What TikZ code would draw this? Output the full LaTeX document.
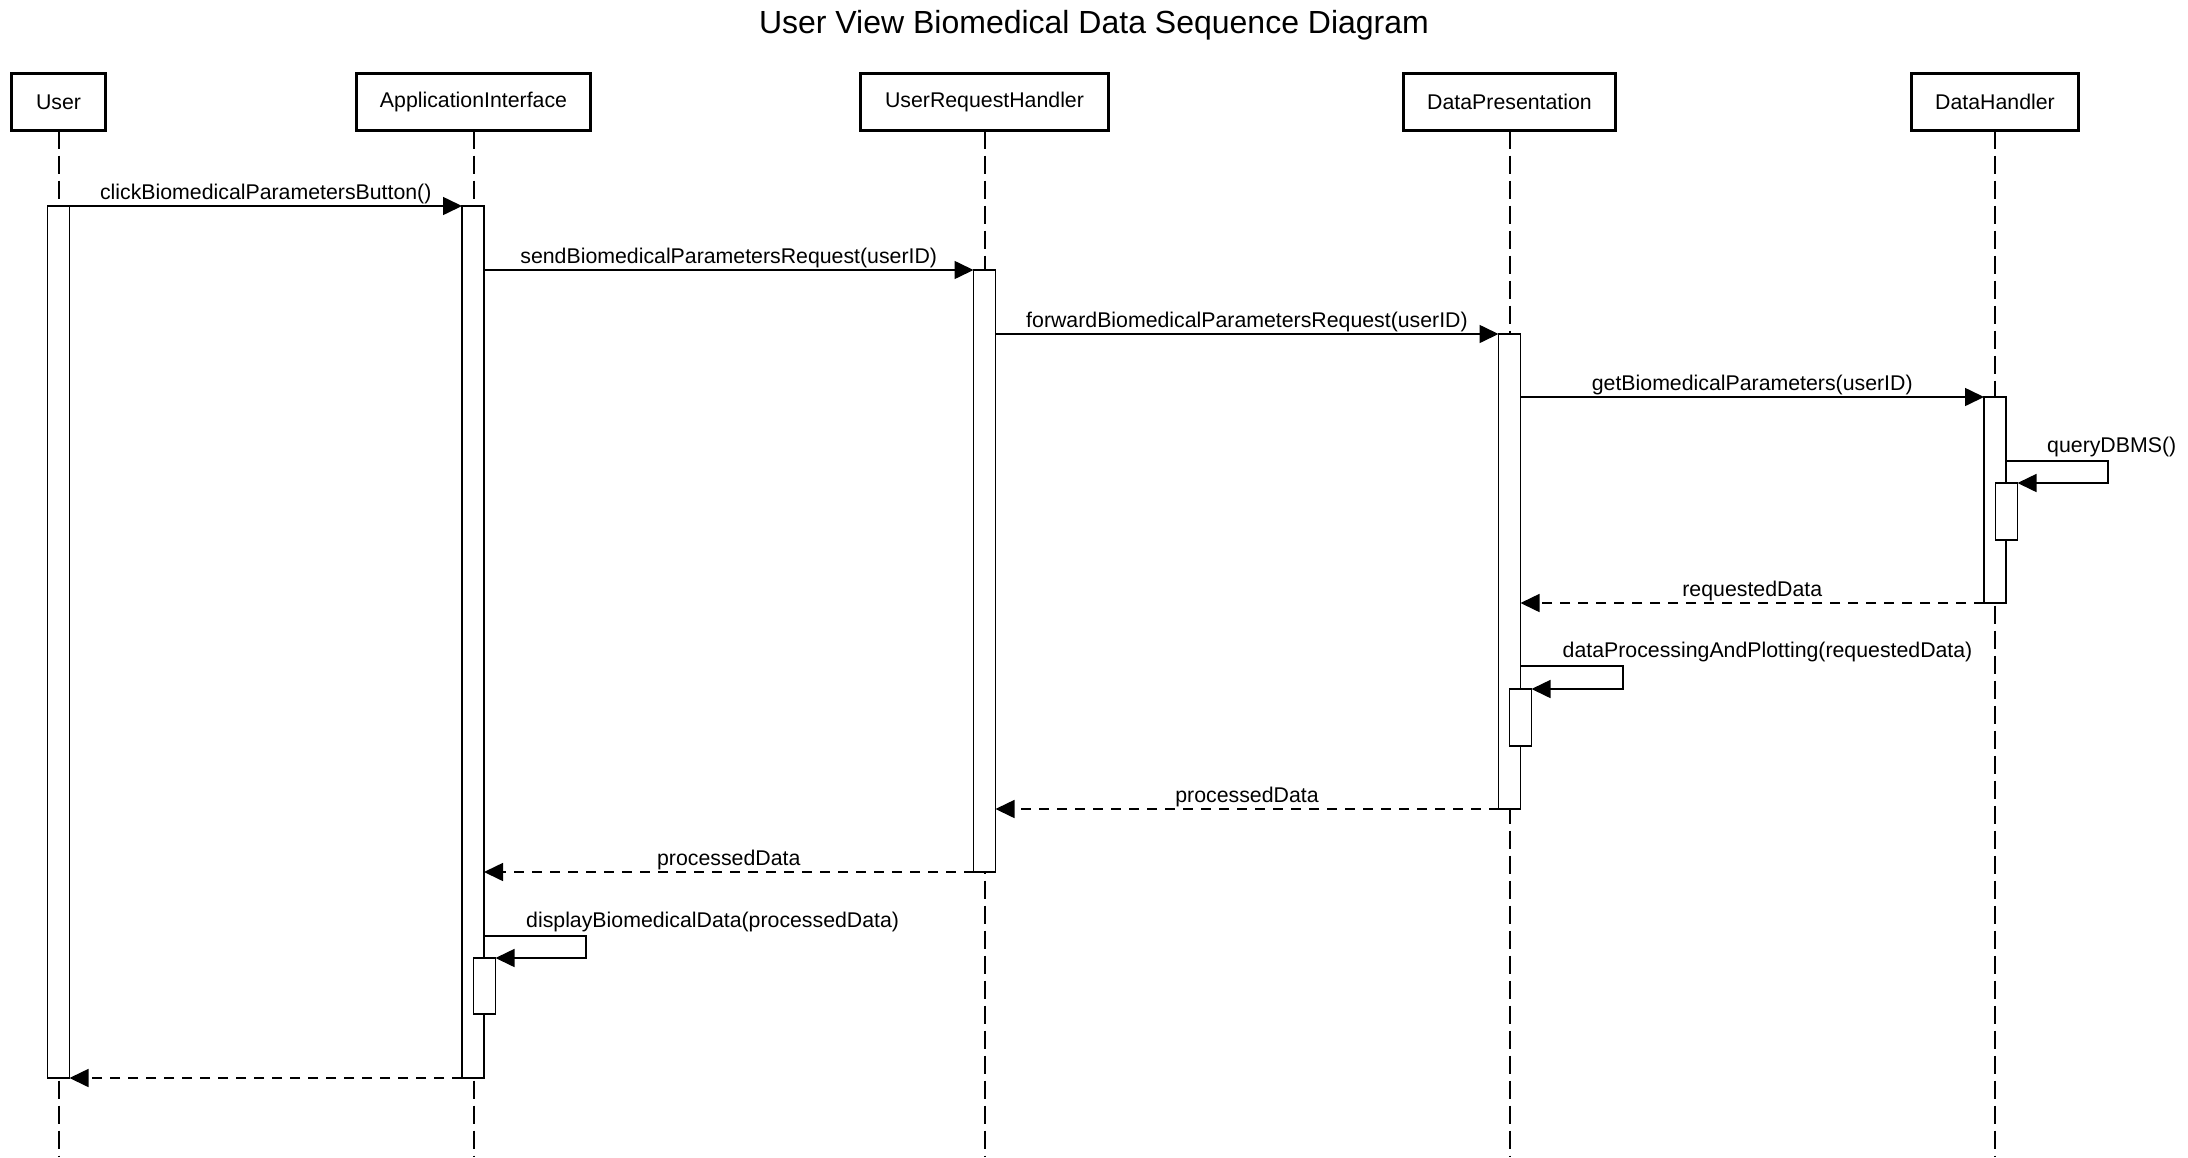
\documentclass[tikz,border=0pt]{standalone}
\usepackage{fontspec}
\setmainfont{Liberation Sans}
\usetikzlibrary{arrows.meta}
\newcommand\msgfont{\fontsize{21.3}{25}\selectfont}
\newcommand\ttlfont{\fontsize{32}{38}\selectfont}
\begin{document}
\begin{tikzpicture}[x=1pt,y=-1pt,
  actor/.style={draw, line width=3.4pt, minimum height=57pt, inner sep=0pt, outer sep=0pt, font=\msgfont},
  lifeline/.style={line width=2pt, dash pattern=on 18pt off 7pt},
  act/.style={draw, fill=white, line width=1.5pt, inner sep=0pt, outer sep=0pt, minimum width=22pt, anchor=north},
  msg/.style={line width=1.6pt, -{Triangle[length=19pt,width=18pt]}},
  ret/.style={msg, dash pattern=on 10pt off 8pt},
  lab/.style={midway, anchor=base, yshift=7pt, font=\msgfont, inner sep=0pt},
  selflab/.style={anchor=base west, yshift=9pt, font=\msgfont, inner sep=0pt}
]
\fill[white] (0,0) rectangle (2188,1157);
\useasboundingbox (0,0) rectangle (2188,1157);

\node[font=\ttlfont, anchor=base] (title) at (1094,33) {User View Biomedical Data Sequence Diagram};

% participants
\node[actor, minimum width=94pt]  (pU)   at (58.5,102)  {User};
\node[actor, minimum width=234pt] (pAI)  at (473.5,102) {ApplicationInterface};
\node[actor, minimum width=248pt] (pURH) at (984.5,102) {UserRequestHandler};
\node[actor, minimum width=212pt] (pDP)  at (1509.5,102) {DataPresentation};
\node[actor, minimum width=167pt] (pDH)  at (1995,102)  {DataHandler};

\coordinate (bottom) at (0,1157);
\foreach \p in {pU,pAI,pURH,pDP,pDH}
  \draw[lifeline] (\p.south) -- (\p.south |- bottom);

% activations
\node[act, minimum height=872pt] (aU)   at (58.5,206) {};
\node[act, minimum height=872pt] (aAI)  at (473,206) {};
\node[act, minimum height=602pt] (aURH) at (984.5,270) {};
\node[act, minimum height=475pt] (aDP)  at (1509.5,334) {};
\node[act, minimum height=206pt] (aDH)  at (1995,397) {};
\node[act, minimum height=57pt]  (aDH2) at (2006.5,483) {};
\node[act, minimum height=57pt]  (aDP2) at (1520.5,689) {};
\node[act, minimum height=56pt]  (aAI2) at (484.5,958) {};

% calls
\draw[msg] (aU.north east) -- (aAI.north west) node[lab] {clickBiomedicalParametersButton()};
\draw[msg] (aAI.east |- aURH.north) -- (aURH.north west) node[lab] {sendBiomedicalParametersRequest(userID)};
\draw[msg] (aURH.east |- aDP.north) -- (aDP.north west) node[lab] {forwardBiomedicalParametersRequest(userID)};
\draw[msg] (aDP.east |- aDH.north) -- (aDH.north west) node[lab] {getBiomedicalParameters(userID)};

% self call on DataHandler
\coordinate (qR) at (2108,461);
\draw[msg] (aDH.east |- qR) -- (qR) -- (qR |- aDH2.north) -- (aDH2.north east);
\node[selflab] (qlab) at ([xshift=41pt]aDH.east |- qR) {queryDBMS()};

% returns
\draw[ret] (aDH.south west) -- (aDP.east |- aDH.south) node[lab] {requestedData};

% self call on DataPresentation
\coordinate (dR) at (1623,666);
\draw[msg] (aDP.east |- dR) -- (dR) -- (dR |- aDP2.north) -- (aDP2.north east);
\node[selflab] (dlab) at ([xshift=42pt]aDP.east |- dR) {dataProcessingAndPlotting(requestedData)};

\draw[ret] (aDP.south west) -- (aURH.east |- aDP.south) node[lab] {processedData};
\draw[ret] (aURH.south west) -- (aAI.east |- aURH.south) node[lab] {processedData};

% self call on ApplicationInterface
\coordinate (iR) at (586,936);
\draw[msg] (aAI.east |- iR) -- (iR) -- (iR |- aAI2.north) -- (aAI2.north east);
\node[selflab] (ilab) at ([xshift=42pt]aAI.east |- iR) {displayBiomedicalData(processedData)};

\draw[ret] (aAI.south west) -- (aU.south east);
\end{tikzpicture}
\end{document}
